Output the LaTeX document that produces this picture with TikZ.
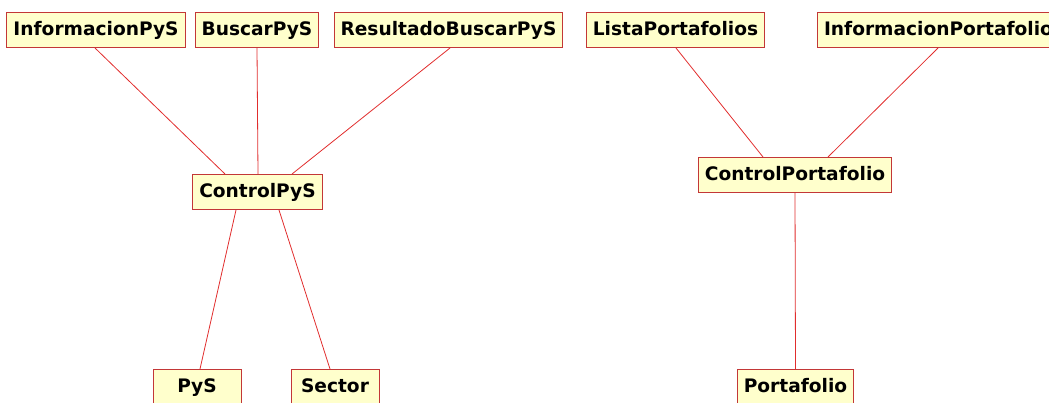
\documentclass[tikz,border=0pt]{standalone}
\usepackage{fontspec}
\setmainfont{DejaVu Sans}
\usepackage{tikz}
\usepackage{xcolor}
\usetikzlibrary{positioning}
\definecolor{clfill}{RGB}{255,255,204}
\definecolor{cldraw}{RGB}{195,55,55}
\definecolor{lnred}{RGB}{225,45,45}
\tikzset{%
   cl/.style={
      draw=cldraw,
      fill=clfill,
      line width=1pt,
      inner xsep=6.5pt,
      inner ysep=0pt,
      minimum width=88pt,
      minimum height=35pt,
      text height=13.5pt,
      text depth=3.5pt,
      font=\bfseries\fontsize{18.6}{20}\selectfont
   },
   ln/.style={
      draw=lnred,
      line width=0.8pt
   },
}

\begin{document}
\begin{tikzpicture}[x=1pt, y=-1pt]
      \useasboundingbox (0,0) rectangle (1049,402);
      \clip (0,0) rectangle (1049,402);
      \node[cl] (infopys) at (96,30) {InformacionPyS};
      \node[cl] (buscar) at (257,30) {BuscarPyS};
      \node[cl] (resultado) at (448.5,30) {ResultadoBuscarPyS};
      \node[cl] (lista) at (675.5,30) {ListaPortafolios};
      \node[cl, anchor=west] (infoport) at (817,30) {InformacionPortafolio};
      \node[cl] (ctrlpys) at (257.5,192) {ControlPyS};
      \node[cl] (ctrlport) at (795,175) {ControlPortafolio};
      \node[cl, anchor=north] (pys) at (197,369) {PyS};
      \node[cl, anchor=north] (sector) at (335,369) {Sector};
      \node[cl, anchor=north] (port) at (795.5,369) {Portafolio};
      \path[ln] ([xshift=-1pt]infopys.south) -- ([xshift=-32.5pt]ctrlpys.north);
      \path[ln] (buscar.south) -- ([xshift=0.5pt]ctrlpys.north);
      \path[ln] ([xshift=1.5pt]resultado.south) -- ([xshift=34.5pt]ctrlpys.north);
      \path[ln] ([xshift=-21.5pt]ctrlpys.south) -- ([xshift=3pt]pys.north);
      \path[ln] ([xshift=21.5pt]ctrlpys.south) -- ([xshift=-5pt]sector.north);
      \path[ln] ([xshift=0.5pt]lista.south) -- ([xshift=-32pt]ctrlport.north);
      \path[ln] ([xshift=121pt]infoport.south west) -- ([xshift=33pt]ctrlport.north);
      \path[ln] (ctrlport.south) -- (port.north);
\end{tikzpicture}
\end{document}
